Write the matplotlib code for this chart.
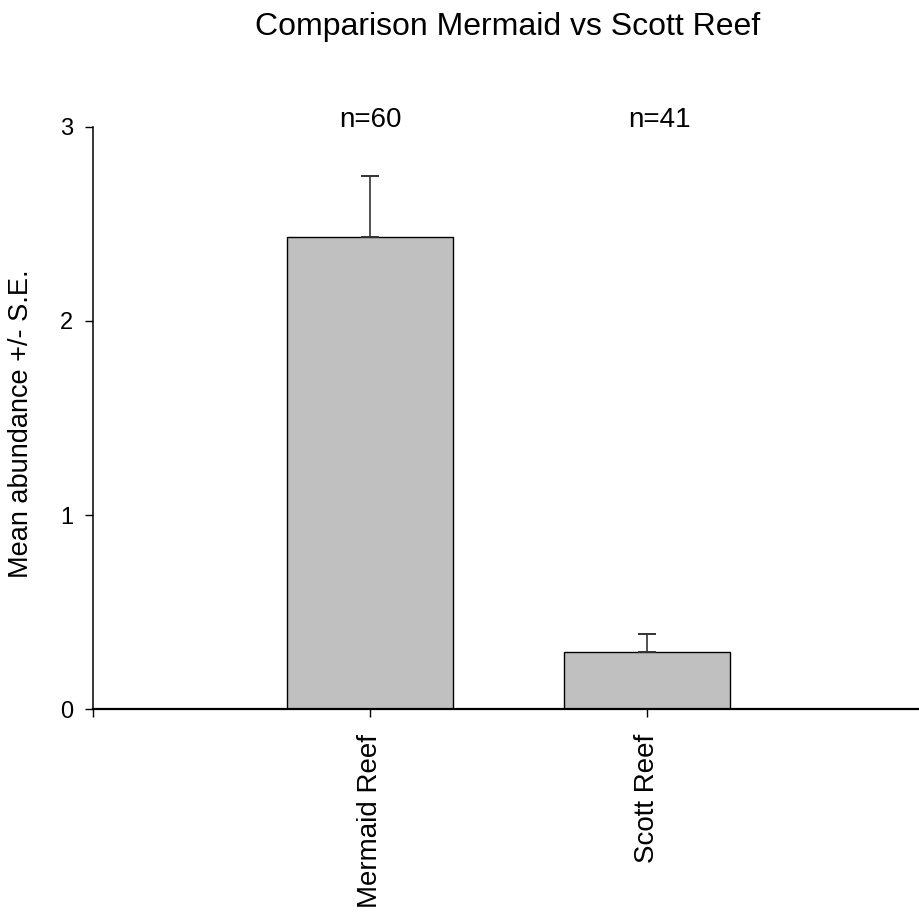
import matplotlib
matplotlib.use("Agg")
import matplotlib.pyplot as plt
import numpy as np

plt.rcParams['font.family'] = ['Liberation Sans', 'DejaVu Sans']

# data
sites = ["Mermaid Reef", "Scott Reef"]
means = [2.43, 0.295]
se = [0.317, 0.092]
n_labels = ["n=60", "n=41"]

fig = plt.figure(figsize=(9.19, 9.14), dpi=100)
ax = fig.add_axes([93.3 / 919, 1 - 709.3 / 914, (924 - 93.3) / 919, (709.3 - 126.7) / 914])

x = np.arange(len(sites))
ax.bar(x, means, width=0.6, color="#c0c0c0", edgecolor="black", linewidth=1.0, zorder=2)
ax.errorbar(x, means, yerr=[np.zeros(len(se)), se], fmt="none", ecolor="#333333",
            elinewidth=1.2, capsize=6.2, capthick=1.4, zorder=3)

# sample sizes above the bars
n_offsets = [0.0, 0.045]
for xi, lab, off in zip(x, n_labels, n_offsets):
    ax.text(xi + off, 3.0, lab, ha="center", va="baseline", fontsize=20, clip_on=False)

ax.set_xlim(-1, 2)
ax.set_ylim(0, 3)
ax.set_yticks([0, 1, 2, 3])
ax.set_xticks(x)
ax.set_xticklabels(sites, rotation=90, fontsize=20)
ax.set_xticks([-1], minor=True)
ax.tick_params(axis="y", labelsize=17, length=6, width=1, pad=8.5, direction="out")
ax.tick_params(axis="x", which="both", length=6, width=1, pad=11.5, direction="out")

for s in ["top", "right"]:
    ax.spines[s].set_visible(False)
ax.spines["bottom"].set_linewidth(1.6)
ax.spines["left"].set_linewidth(1.1)

fig.text(508 / 919, 1 - 35 / 914, "Comparison Mermaid vs Scott Reef", ha="center",
         va="baseline", fontsize=23)
fig.text(21 / 919, 1 - 424 / 914, "Mean abundance +/- S.E.", rotation=90,
         ha="center", va="center", fontsize=19.5)

fig.savefig("out.png", dpi=100)
